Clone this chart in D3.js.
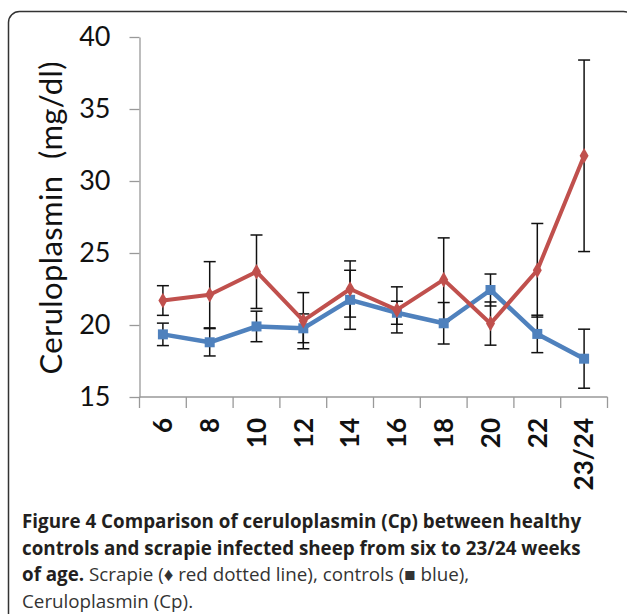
<!DOCTYPE html>
<html>
<head>
<meta charset="utf-8">
<script src="https://cdn.jsdelivr.net/npm/d3@7"></script>
<style>
  body { margin: 0; background: #fff; }
  svg { display: block; }
</style>
</head>
<body>
<div id="chart"></div>
<script>
// Weeks of age
const weeks = ["6", "8", "10", "12", "14", "16", "18", "20", "22", "23/24"];
// Scrapie (red diamonds)
const scrapie = [21.7, 22.1, 23.7, 20.3, 22.5, 21.05, 23.15, 20.1, 23.8, 31.75];
const scrapieErr = [1.03, 2.3, 2.55, 1.95, 1.95, 1.6, 2.9, 1.5, 3.25, 6.65];
// Controls (blue squares)
const controls = [19.35, 18.8, 19.9, 19.77, 21.75, 20.85, 20.12, 22.43, 19.38, 17.66];
const controlsErr = [0.78, 0.95, 1.06, 1.0, 2.05, 0.8, 1.44, 1.11, 1.3, 2.05];
const yTicks = [15, 20, 25, 30, 35, 40];

const captionLines = [
  [{ t: "Figure 4 Comparison of ceruloplasmin (Cp) between healthy", b: true }],
  [{ t: "controls and scrapie infected sheep from six to 23/24 weeks", b: true }],
  [{ t: "of age.", b: true }, { t: "\u00A0Scrapie (\u2666 red dotted line), controls (\u25A0 blue),", b: false }],
  [{ t: "Ceruloplasmin (Cp).", b: false }]
];

const W = 627, H = 614;
const plot = { left: 139.5, right: 607.5, top: 37, bottom: 397 };

const svg = d3.select("#chart").append("svg")
  .attr("width", W).attr("height", H);

svg.append("rect").attr("width", W).attr("height", H).attr("fill", "#fff");

// outer frame (runs off the right and bottom edge)
svg.append("rect")
  .attr("x", 8.5).attr("y", 11.5)
  .attr("width", 626).attr("height", 640)
  .attr("rx", 11)
  .attr("fill", "none").attr("stroke", "#333").attr("stroke-width", 1.5);

const x = d3.scaleBand().domain(weeks).range([plot.left, plot.right]);
const y = d3.scaleLinear().domain([15, 40]).range([plot.bottom, plot.top]);
const cx = (d) => x(d) + x.bandwidth() / 2;

// y axis
const yAxis = d3.axisLeft(y).tickValues(yTicks).tickSize(10).tickPadding(19).tickSizeOuter(0);
const gy = svg.append("g").attr("transform", `translate(${plot.left},0)`).call(yAxis);
gy.select(".domain").attr("stroke", "#999").attr("stroke-width", 1.3);
gy.selectAll(".tick line").attr("stroke", "#999").attr("stroke-width", 1.3);
gy.selectAll(".tick text")
  .attr("font-family", "Lato, 'Open Sans', sans-serif")
  .attr("font-size", 27).attr("fill", "#111");

// x axis: line plus tick marks at band boundaries
const gx = svg.append("g");
gx.append("line")
  .attr("x1", plot.left).attr("x2", plot.right)
  .attr("y1", plot.bottom).attr("y2", plot.bottom)
  .attr("stroke", "#999").attr("stroke-width", 1.3);
const bounds = weeks.map((d) => x(d)).concat([x.range()[1]]);
gx.selectAll("line.tk").data(bounds).join("line").attr("class", "tk")
  .attr("x1", (d) => d).attr("x2", (d) => d)
  .attr("y1", plot.bottom).attr("y2", plot.bottom + 11)
  .attr("stroke", "#999").attr("stroke-width", 1.3);
gx.selectAll("text").data(weeks).join("text")
  .attr("transform", (d) => `translate(${cx(d)},418) rotate(-90)`)
  .attr("text-anchor", "end")
  .attr("dy", "0.36em")
  .attr("font-family", "Lato, 'Open Sans', sans-serif")
  .attr("font-weight", "bold")
  .attr("font-size", 26).attr("fill", "#111")
  .text((d) => d);

// y title
svg.append("text")
  .attr("transform", `translate(51,218) rotate(-90)`)
  .attr("text-anchor", "middle")
  .attr("dy", "0.36em")
  .attr("font-family", "Lato, 'Open Sans', sans-serif")
  .attr("font-size", 31).attr("fill", "#111")
  .attr("textLength", 313).attr("lengthAdjust", "spacing")
  .text("Ceruloplasmin\u00A0\u00A0(mg/dl)");

function series(vals, errs, color, marker) {
  const data = weeks.map((w, i) => ({ w, v: vals[i], e: errs[i] }));
  const g = svg.append("g");
  // error bars
  const eb = g.selectAll("g.eb").data(data).join("g").attr("class", "eb")
    .attr("stroke", "#111").attr("stroke-width", 1.5);
  eb.append("line")
    .attr("x1", (d) => cx(d.w)).attr("x2", (d) => cx(d.w))
    .attr("y1", (d) => y(d.v - d.e)).attr("y2", (d) => y(d.v + d.e));
  [1, -1].forEach((s) => {
    eb.append("line")
      .attr("x1", (d) => cx(d.w) - 6).attr("x2", (d) => cx(d.w) + 6)
      .attr("y1", (d) => y(d.v + s * d.e)).attr("y2", (d) => y(d.v + s * d.e));
  });
  return { g, data, color, marker };
}

const blueS = series(controls, controlsErr, "#4F81BD", "square");
const redS = series(scrapie, scrapieErr, "#C0504D", "diamond");

const line = d3.line().x((d) => cx(d.w)).y((d) => y(d.v));

function drawLine(s, width) {
  const g = svg.append("g");
  g.append("path").datum(s.data)
    .attr("d", line)
    .attr("fill", "none").attr("stroke", s.color)
    .attr("stroke-width", width).attr("stroke-linejoin", "round");
  const sym = s.marker === "square"
    ? d3.symbol().type(d3.symbolSquare).size(100)
    : d3.symbol().type(d3.symbolDiamond).size(70);
  g.selectAll("path.m").data(s.data).join("path").attr("class", "m")
    .attr("transform", (d) => `translate(${cx(d.w)},${y(d.v)})`)
    .attr("d", sym)
    .attr("fill", s.color);
}
drawLine(blueS, 4.5);
drawLine(redS, 4);

// caption
const cap = svg.append("g").attr("font-family", "'Open Sans', sans-serif").attr("font-size", 18.8);
captionLines.forEach((ln, i) => {
  const t = cap.append("text").attr("x", 22).attr("y", 528 + i * 26.5).attr("fill", "#231f20");
  ln.forEach((p) => {
    t.append("tspan")
      .attr("font-weight", p.b ? "bold" : "normal")
      .attr("fill", p.b ? "#231f20" : "#333")
      .text(p.t);
  });
});
</script>
</body>
</html>
